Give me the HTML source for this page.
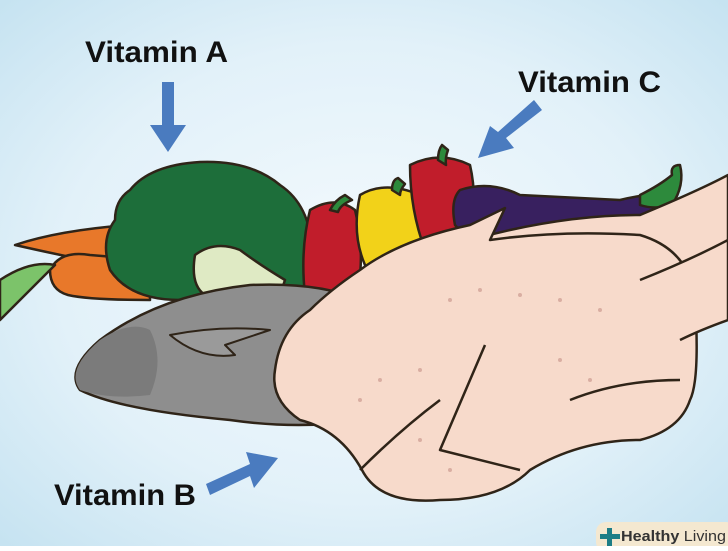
<!DOCTYPE html>
<html><head><meta charset="utf-8"><style>
html,body{margin:0;padding:0}
body{width:728px;height:546px;overflow:hidden;font-family:"Liberation Sans",sans-serif}
</style></head><body>
<svg width="728" height="546" viewBox="0 0 728 546" xmlns="http://www.w3.org/2000/svg">
<defs>
<radialGradient id="bg" cx="50%" cy="50%" r="70%">
<stop offset="0" stop-color="#f4fafd"/><stop offset="0.6" stop-color="#e2f1f9"/><stop offset="1" stop-color="#c6e3f1"/>
</radialGradient>
</defs>
<rect width="728" height="546" fill="url(#bg)"/>
<g stroke="#2f2418" stroke-width="2.5" stroke-linejoin="round">
<path d="M15 245 Q60 230 130 225 L140 270 Q90 262 15 245Z" fill="#e8782a"/>
<path d="M50 270 Q60 250 90 255 L150 260 L150 300 Q90 300 68 295 Q50 290 50 270Z" fill="#e8782a"/>
<path d="M0 280 Q30 260 55 265 Q30 290 0 320Z" fill="#7cc36a"/>
<path d="M130 190 Q150 165 200 162 Q250 160 280 185 Q310 205 312 250 Q312 285 295 295 L180 300 Q130 300 110 270 Q100 240 115 220 Q115 200 130 190Z" fill="#1d6e3a"/>
<path d="M195 255 Q215 240 240 250 Q260 265 285 280 L280 295 L205 295 Q190 285 195 255Z" fill="#dfeac4"/>
<path d="M310 210 Q335 195 355 210 Q365 250 358 290 L305 295 Q300 250 310 210Z" fill="#c11d2b"/>
<path d="M360 195 Q385 180 420 195 Q435 230 425 260 L370 275 Q350 240 360 195Z" fill="#f2d219"/>
<path d="M410 165 Q440 150 470 165 Q478 200 470 240 L425 250 Q410 210 410 165Z" fill="#c11d2b"/>
<path d="M438 160 Q438 150 442 145 L448 150 Q445 158 446 165Z" fill="#2d8a3c"/>
<path d="M392 190 Q392 180 398 178 L405 184 Q400 190 400 195Z" fill="#2d8a3c"/>
<path d="M330 210 Q335 200 345 195 L352 200 Q340 205 338 212Z" fill="#2d8a3c"/>
<path d="M460 190 Q490 180 520 195 L620 200 Q660 190 672 200 Q665 220 640 230 L520 240 Q470 245 455 225 Q450 200 460 190Z" fill="#38205f"/>
<path d="M640 195 Q660 185 672 175 Q670 165 680 165 Q685 185 672 205 Q655 210 640 205Z" fill="#2d8a3c"/>
<path d="M100 340 Q160 295 250 285 Q320 282 360 300 L365 420 Q300 430 230 420 Q120 410 80 390 Q65 370 100 340Z" fill="#8e8e8e"/>
<path d="M100 340 Q130 320 150 330 Q165 360 150 395 Q110 400 80 390 Q65 370 100 340Z" fill="#7b7b7b" stroke="none"/>
<path d="M170 335 Q220 325 270 330 L225 345 L235 355 Q200 360 170 335Z" fill="#9a9a9a" stroke-width="2"/>
<path d="M470 240 Q560 215 640 215 Q700 190 728 175 L728 290 Q700 300 680 290 Q640 260 600 250Z" fill="#f7dacb"/>
<path d="M360 270 Q400 240 470 225 L505 208 L490 240 Q560 230 640 235 Q690 250 695 300 Q700 380 690 400 Q680 430 640 440 Q580 440 530 470 Q500 500 440 500 Q380 505 362 470 Q340 430 300 420 Q270 400 275 370 Q280 330 310 310 Q330 290 360 270Z" fill="#f7dacb"/>
<path d="M640 280 Q690 260 728 240 L728 320 Q700 330 680 340" fill="#f7dacb"/>
<path d="M485 345 L440 450 L520 470" fill="none"/>
<path d="M570 400 Q620 380 680 380" fill="none"/>
<path d="M360 470 Q400 430 440 400" fill="none"/>
</g>
<g fill="#d9aea2">
<circle cx="450" cy="300" r="2"/><circle cx="480" cy="290" r="2"/><circle cx="520" cy="295" r="2"/><circle cx="560" cy="300" r="2"/><circle cx="600" cy="310" r="2"/><circle cx="360" cy="400" r="2"/><circle cx="380" cy="380" r="2"/><circle cx="420" cy="370" r="2"/><circle cx="560" cy="360" r="2"/><circle cx="590" cy="380" r="2"/><circle cx="420" cy="440" r="2"/><circle cx="450" cy="470" r="2"/>
</g>
<g fill="#4a7bbf">
<polygon points="162,82 174,82 174,125 186,125 168,152 150,125 162,125"/>
<polygon points="534,100 542,110 506,138 514,148 478,158 490,126 498,132"/>
<polygon points="206,484 210,495 250,476 254,488 278,458 246,452 250,464"/>
</g>
<g font-family="'Liberation Sans',sans-serif" font-weight="bold" font-size="30" fill="#111">
<text x="85" y="62" textLength="143" lengthAdjust="spacingAndGlyphs">Vitamin A</text>
<text x="518" y="92" textLength="143" lengthAdjust="spacingAndGlyphs">Vitamin C</text>
<text x="54" y="505" textLength="142" lengthAdjust="spacingAndGlyphs">Vitamin B</text>
</g>
<rect x="596" y="522" width="140" height="30" rx="10" fill="#f4e8d0"/>
<path d="M600 534 h7 v-6 h5 v6 h8 v5 h-8 v7 h-5 v-7 h-7z" fill="#1c7d86"/>
<text x="621" y="541" font-family="'Liberation Sans',sans-serif" font-size="15" fill="#333" textLength="105" lengthAdjust="spacingAndGlyphs"><tspan font-weight="bold">Healthy</tspan> Living</text>
</svg>
</body></html>
